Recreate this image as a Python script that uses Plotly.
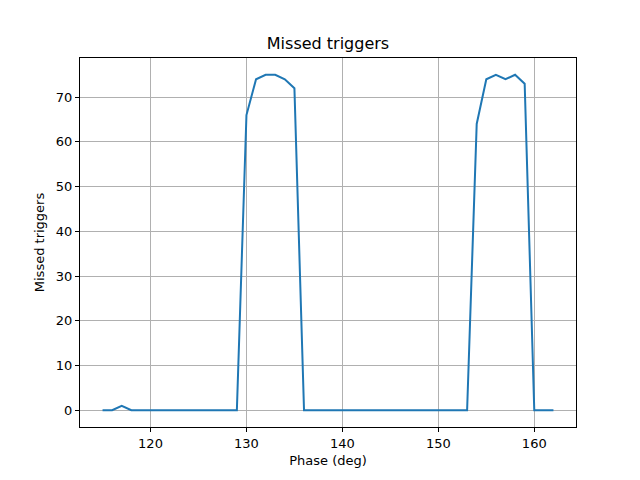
import plotly.graph_objects as go

phase = list(range(115, 163))
missed = ([0, 0, 1] + [0] * 12
          + [66, 74, 75, 75, 74, 72]
          + [0] * 18
          + [64, 74, 75, 74, 75, 73]
          + [0, 0, 0])

fig = go.Figure()
fig.add_trace(go.Scatter(x=phase, y=missed, mode="lines",
                         line=dict(color="#1f77b4", width=2)))

axis_style = dict(showline=True, linecolor="black", linewidth=1, mirror=True,
                  ticks="outside", ticklen=4, tickcolor="black",
                  showgrid=True, gridcolor="#b0b0b0", gridwidth=1,
                  zeroline=False, tickfont=dict(size=13, color="black"))

# page body has an 8px margin, so shift everything up/left by 8
fig.update_layout(
    width=640, height=480,
    margin=dict(l=72, r=72, t=50, b=61),
    paper_bgcolor="white", plot_bgcolor="white",
    font=dict(family="DejaVu Sans", size=13, color="black"),
    title=dict(text="Missed triggers", x=(328 - 8) / 640, xanchor="center",
               y=1 - 35 / 480, yanchor="middle", font=dict(size=16)),
    showlegend=False,
    xaxis=dict(range=[112.65, 164.35], tickvals=[120, 130, 140, 150, 160],
               title=dict(text="Phase (deg)", standoff=6, font=dict(size=13)),
               **axis_style),
    yaxis=dict(range=[-3.75, 78.75], tickvals=[0, 10, 20, 30, 40, 50, 60, 70],
               title=dict(text="Missed triggers", standoff=8, font=dict(size=13)),
               **axis_style),
)

fig.write_html("out.html")
